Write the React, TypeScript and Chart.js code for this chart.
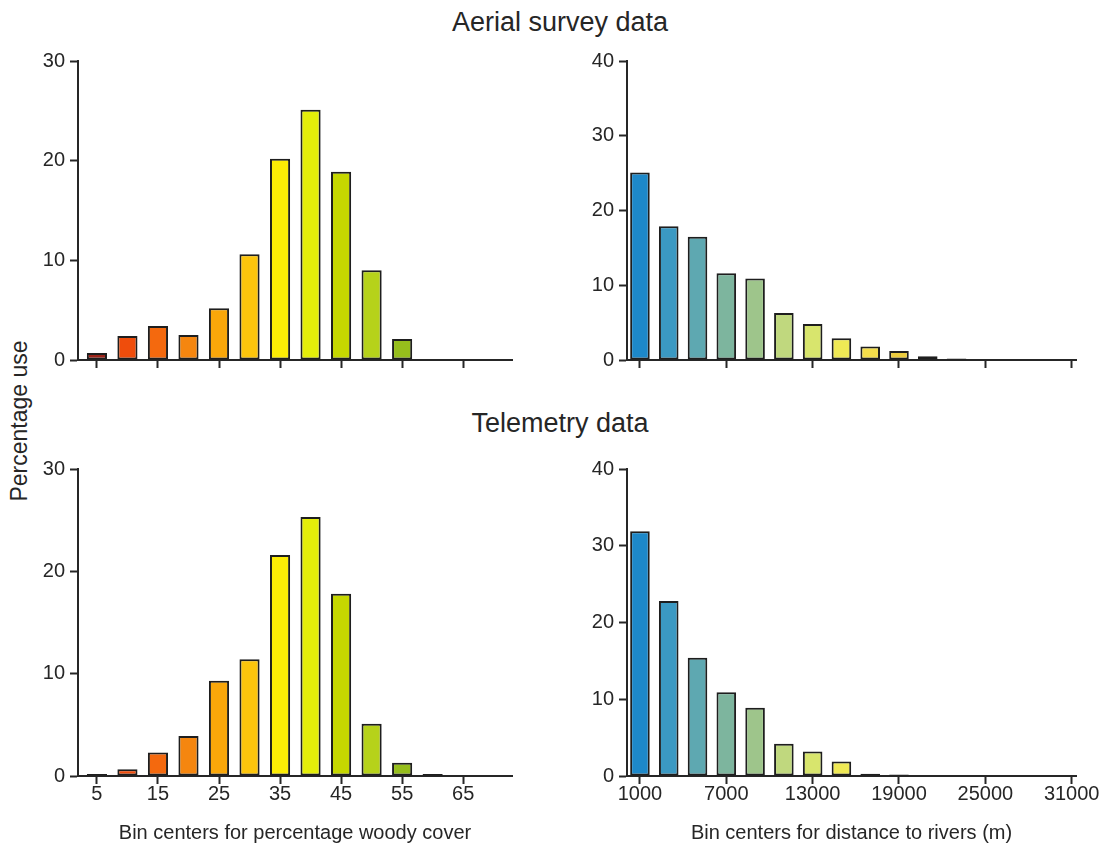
import React, { useEffect, useRef } from 'react';
import { Chart, registerables } from 'chart.js';

Chart.register(...registerables);

// ---------- Data ----------
const woodyBins = [5, 10, 15, 20, 25, 30, 35, 40, 45, 50, 55, 60];
const woodyAerial = [0.7, 2.4, 3.4, 2.5, 5.2, 10.6, 20.2, 25.1, 18.9, 9.0, 2.1, null];
const woodyTelemetry = [0.2, 0.65, 2.3, 3.9, 9.3, 11.4, 21.6, 25.3, 17.8, 5.1, 1.3, 0.2];
const woodyColors = ['#9c2318', '#ef4d0c', '#f4690e', '#f5860f', '#f9a70a', '#fcc50c', '#fcec05', '#e4ee0a', '#c6d800', '#b6d21a', '#96be1c', '#6a8a20'];
const woodyTicks = [5, 15, 25, 35, 45, 55, 65];
const woodyYTicks = [0, 10, 20, 30];

const riverBins = [1000, 3000, 5000, 7000, 9000, 11000, 13000, 15000, 17000, 19000, 21000, 23000];
const riverAerial = [25.1, 17.9, 16.5, 11.6, 10.9, 6.3, 4.8, 2.9, 1.8, 1.2, 0.5, 0.2];
const riverTelemetry = [31.9, 22.8, 15.4, 10.9, 8.9, 4.2, 3.2, 1.9, 0.3, 0.2, null, null];
const riverColors = ['#1d88c9', '#3b99c3', '#5ea8b1', '#7db59e', '#9ec58b', '#c0d87e', '#d8e56d', '#efe955', '#f4de4b', '#eccc3e', '#607080', '#405060'];
const riverTicks = [1000, 7000, 13000, 19000, 25000, 31000];
const riverYTicks = [0, 10, 20, 30, 40];

const FONT = "'Liberation Sans', Arial, Helvetica, sans-serif";
const INK = '#262626';

type PanelProps = {
  bins: number[];
  values: (number | null)[];
  colors: string[];
  xTicks: number[];
  yTicks: number[];
  xMin: number;
  xMax: number;
  yMax: number;
  catPct: number;
  area: { left: number; top: number; right: number; bottom: number };
  showX: boolean;
  xTitle?: string;
  padRight: number;
};

const Y_W = 60;
const PAD_TOP = 14;

function Panel(p: PanelProps) {
  const ref = useRef<HTMLCanvasElement | null>(null);
  const xH = p.showX ? 849 - p.area.bottom : 10;
  const cLeft = p.area.left - Y_W;
  const cTop = p.area.top - PAD_TOP;
  const cW = p.area.right + p.padRight - cLeft;
  const cH = p.area.bottom + xH - cTop;

  useEffect(() => {
    if (!ref.current) return;
    const data = p.bins.map((b, i) => ({ x: b, y: p.values[i] }));
    const chart = new Chart(ref.current, {
      type: 'bar',
      data: {
        datasets: [
          {
            data: data as any,
            backgroundColor: p.colors,
            borderColor: '#1e1e1e',
            borderWidth: 2,
            borderSkipped: false,
            categoryPercentage: p.catPct,
            barPercentage: 1,
          },
        ],
      },
      options: {
        animation: false,
        responsive: false,
        maintainAspectRatio: false,
        events: [],
        layout: { padding: { top: PAD_TOP, right: p.padRight, left: 0, bottom: 0 } },
        plugins: { legend: { display: false }, tooltip: { enabled: false } },
        scales: {
          x: {
            type: 'linear',
            offset: false,
            min: p.xMin,
            max: p.xMax,
            afterBuildTicks: (axis: any) => {
              axis.ticks = p.xTicks.map((v) => ({ value: v }));
            },
            afterFit: (scale: any) => {
              scale.height = xH;
            },
            grid: {
              display: true,
              offset: false,
              drawOnChartArea: false,
              drawTicks: true,
              tickLength: 8,
              tickWidth: 2,
              tickColor: INK,
            },
            border: { display: true, color: INK, width: 2 },
            ticks: {
              display: p.showX,
              autoSkip: false,
              maxRotation: 0,
              padding: 0,
              color: INK,
              font: { family: FONT, size: 20, lineHeight: 1 },
              callback: (v: any) => String(v),
            },
            title: {
              display: p.showX,
              text: p.xTitle || '',
              color: INK,
              font: { family: FONT, size: 20, lineHeight: 1.2 },
              padding: { top: 0, bottom: 4 },
            },
          },
          y: {
            type: 'linear',
            min: 0,
            max: p.yMax,
            afterBuildTicks: (axis: any) => {
              axis.ticks = p.yTicks.map((v) => ({ value: v }));
            },
            afterFit: (scale: any) => {
              scale.width = Y_W;
            },
            grid: {
              display: true,
              drawOnChartArea: false,
              drawTicks: true,
              tickLength: 8,
              tickWidth: 2,
              tickColor: INK,
            },
            border: { display: true, color: INK, width: 2 },
            ticks: {
              padding: 5,
              color: INK,
              font: { family: FONT, size: 20 },
            },
          },
        },
      } as any,
    });
    return () => chart.destroy();
  }, []);

  return (
    <canvas
      ref={ref}
      width={cW}
      height={cH}
      style={{ position: 'absolute', left: cLeft, top: cTop, width: cW, height: cH }}
    />
  );
}

const textBase: React.CSSProperties = {
  position: 'absolute',
  fontFamily: FONT,
  color: INK,
  whiteSpace: 'nowrap',
  lineHeight: 1,
};

export default function App() {
  return (
    <div style={{ position: 'absolute', left: 0, top: 0, width: 1110, height: 852, background: '#fff', overflow: 'hidden' }}>
      <div style={{ ...textBase, left: 560, top: 22, fontSize: 27, transform: 'translate(-50%, -50%)' }}>Aerial survey data</div>
      <div style={{ ...textBase, left: 560, top: 423, fontSize: 27, transform: 'translate(-50%, -50%)' }}>Telemetry data</div>
      <div style={{ ...textBase, left: 19, top: 421, fontSize: 23, transform: 'translate(-50%, -50%) rotate(-90deg)' }}>Percentage use</div>

      <Panel
        bins={woodyBins}
        values={woodyAerial}
        colors={woodyColors}
        xTicks={woodyTicks}
        yTicks={woodyYTicks}
        xMin={1.9}
        xMax={73}
        yMax={30}
        catPct={0.66}
        area={{ left: 78, top: 58, right: 512, bottom: 367 }}
        showX={false}
        padRight={6}
      />
      <Panel
        bins={riverBins}
        values={riverAerial}
        colors={riverColors}
        xTicks={riverTicks}
        yTicks={riverYTicks}
        xMin={100}
        xMax={31300}
        yMax={40}
        catPct={0.68}
        area={{ left: 627, top: 58, right: 1076, bottom: 367 }}
        showX={false}
        padRight={6}
      />
      <Panel
        bins={woodyBins}
        values={woodyTelemetry}
        colors={woodyColors}
        xTicks={woodyTicks}
        yTicks={woodyYTicks}
        xMin={1.9}
        xMax={73}
        yMax={30}
        catPct={0.66}
        area={{ left: 78, top: 466, right: 512, bottom: 776 }}
        showX={true}
        xTitle="Bin centers for percentage woody cover"
        padRight={10}
      />
      <Panel
        bins={riverBins}
        values={riverTelemetry}
        colors={riverColors}
        xTicks={riverTicks}
        yTicks={riverYTicks}
        xMin={100}
        xMax={31300}
        yMax={40}
        catPct={0.68}
        area={{ left: 627, top: 466, right: 1076, bottom: 776 }}
        showX={true}
        xTitle="Bin centers for distance to rivers (m)"
        padRight={30}
      />
    </div>
  );
}
